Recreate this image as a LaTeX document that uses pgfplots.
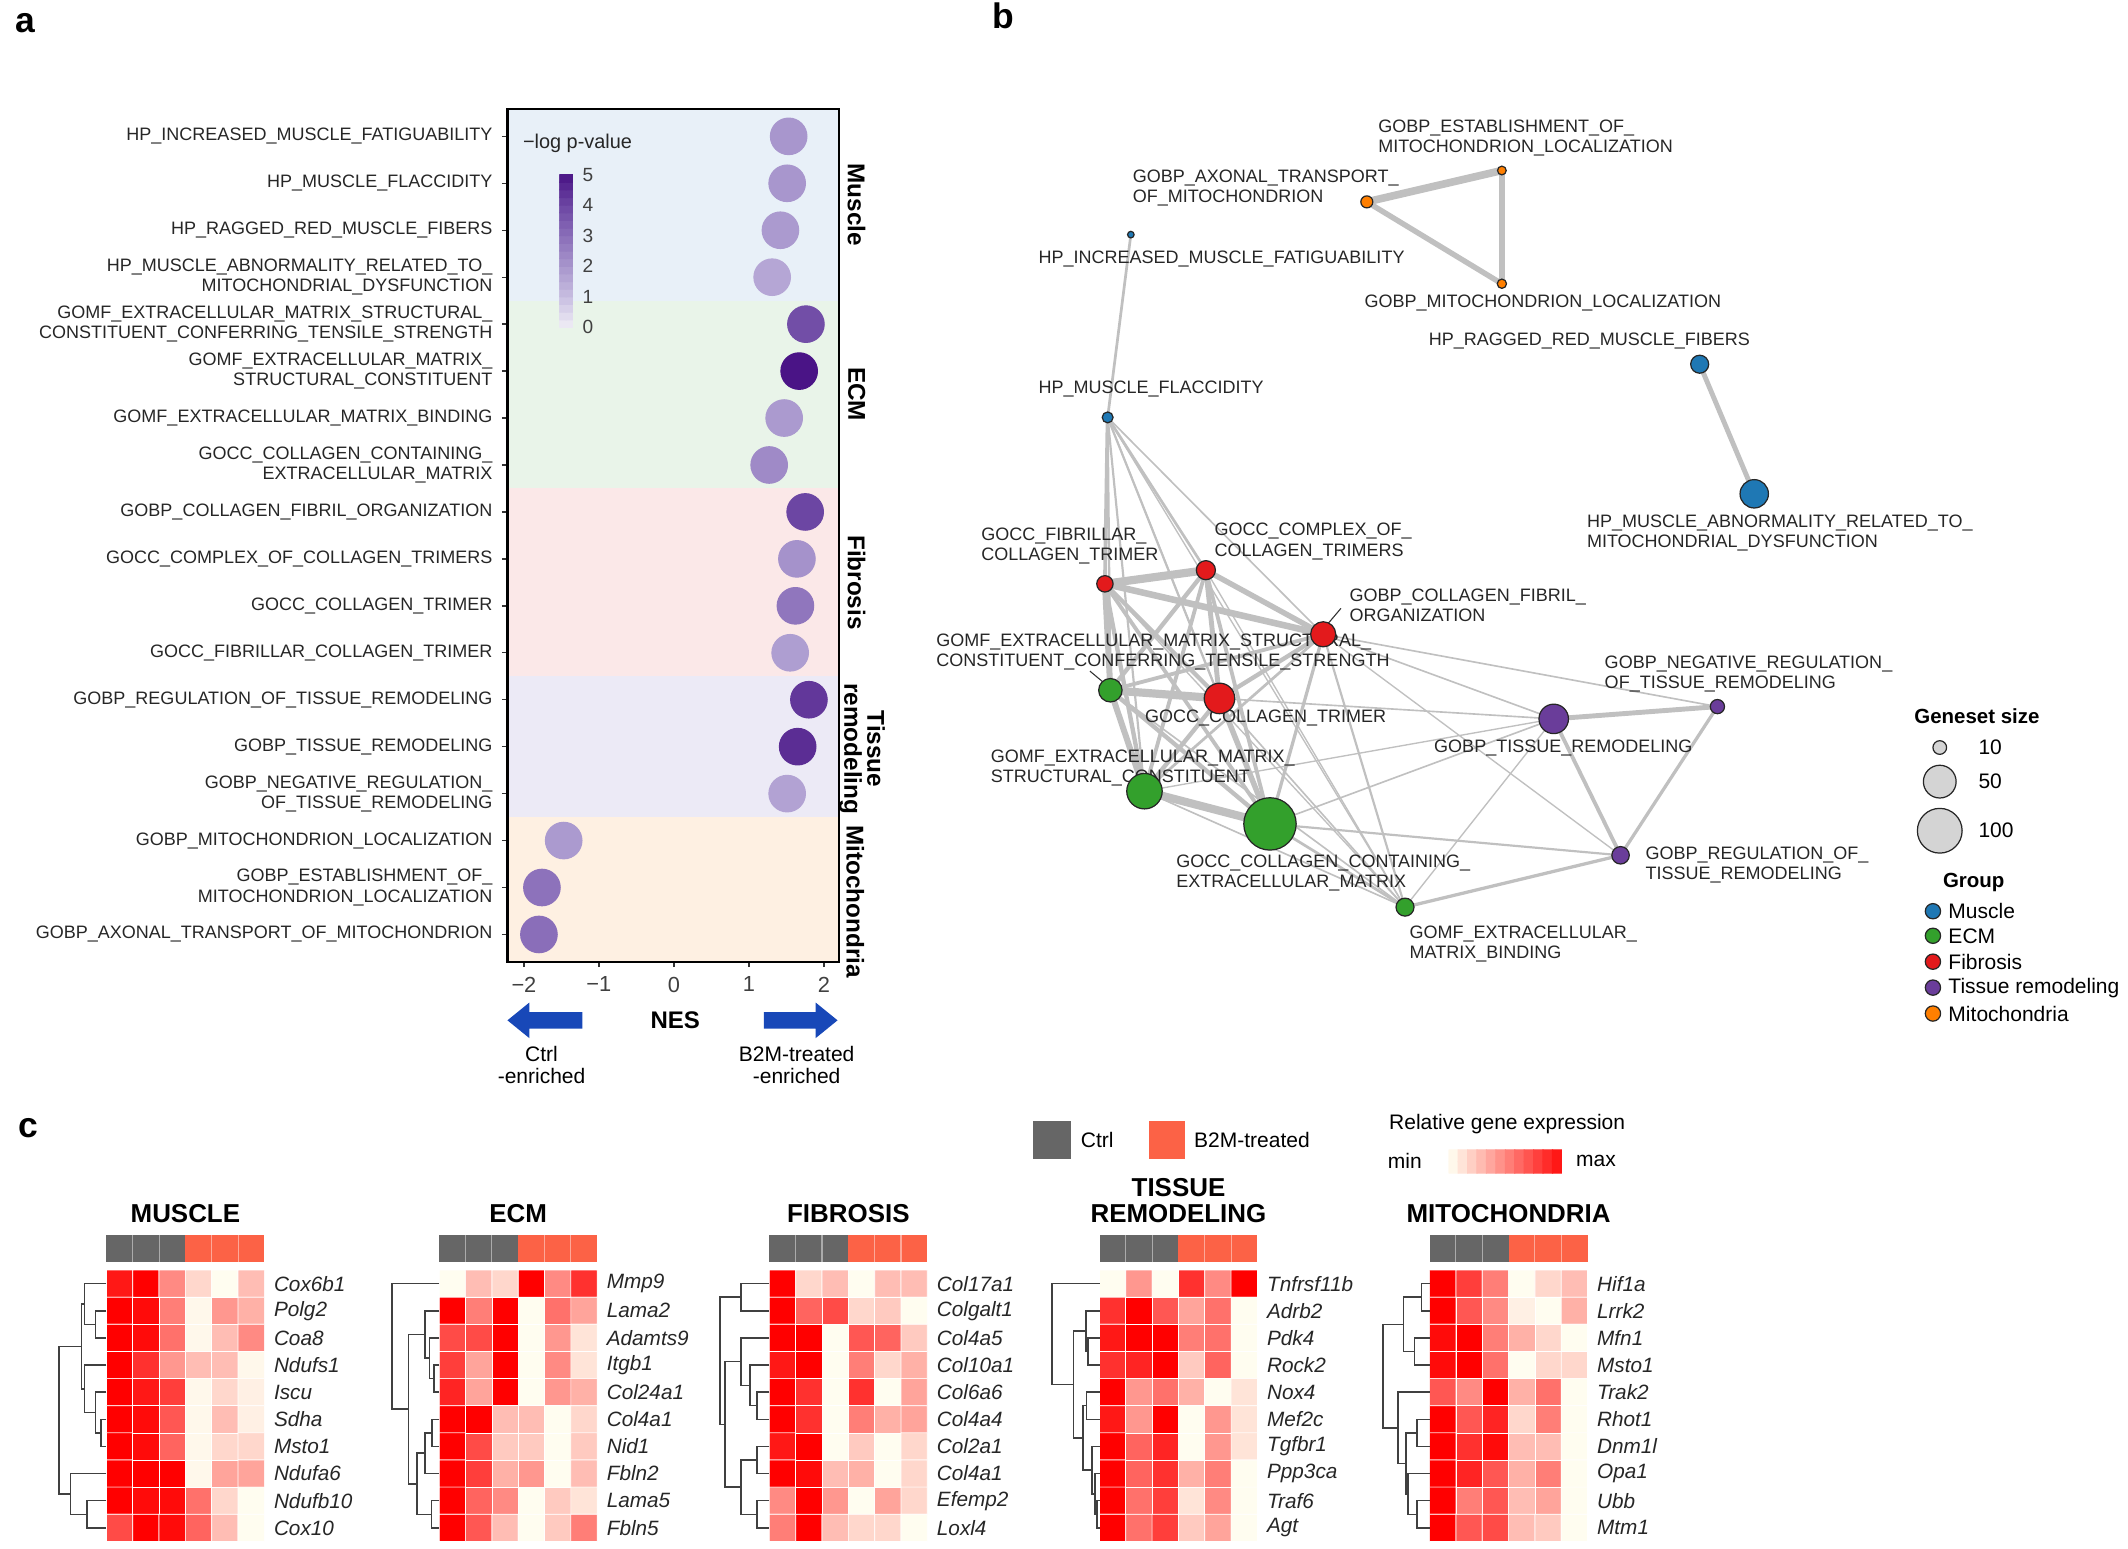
\documentclass[border=0pt]{standalone}
\usepackage{fontspec}
\setmainfont{Liberation Sans}
\usepackage{pgfplots}
\pgfplotsset{compat=1.18}

\definecolor{cMus}{RGB}{31,120,180}
\definecolor{cEcm}{RGB}{51,160,44}
\definecolor{cFib}{RGB}{227,26,28}
\definecolor{cTis}{RGB}{106,61,154}
\definecolor{cMit}{RGB}{255,127,0}
\definecolor{bgMus}{RGB}{232,240,248}
\definecolor{bgEcm}{RGB}{233,244,233}
\definecolor{bgFib}{RGB}{251,232,232}
\definecolor{bgTis}{RGB}{236,234,246}
\definecolor{bgMit}{RGB}{254,240,226}
\definecolor{ctrlc}{RGB}{102,102,102}
\definecolor{b2mc}{RGB}{252,98,70}
\definecolor{arrowc}{RGB}{24,72,184}
\definecolor{edgec}{RGB}{192,192,192}

\newcommand{\lab}{\fontsize{6.6}{7.4}\selectfont}
\newcommand{\txt}{\fontsize{7.7}{8.8}\selectfont}

\pgfplotsset{
  /pgf/number format/assume math mode=true,
  colormap={heat}{rgb255(0cm)=(255,253,240); rgb255(1cm)=(255,0,0)},
  colormap={purp}{rgb255(0cm)=(240,238,246); rgb255(1cm)=(200,190,225); rgb255(2cm)=(168,150,205); rgb255(3cm)=(138,110,185); rgb255(4cm)=(108,70,163); rgb255(5cm)=(74,20,134)},
  dendro/.style={black!75, line width=0.55pt},
  nedge/.style={edgec, line width=#1},
  netnode/.style={scatter, only marks, mark=*,
    scatter/use mapped color={draw=black!85, fill=#1},
    mark options={line width=0.45pt},
    visualization depends on={\thisrow{r}\as\rad},
    scatter/@pre marker code/.append style={/tikz/mark size=\rad}},
  hm/.style={
    anchor=south west, scale only axis, width=76.7pt, height=112.9pt,
    xmin=-1.95, xmax=6, ymin=-1.35, ymax=10, y dir=reverse, clip=false,
    axis line style={draw=none}, xtick=\empty, ytick={0.5,1.5,...,9.5},
    yticklabel pos=right, major tick length=0pt,
    yticklabel style={font=\fontsize{7.6}{8}\selectfont\itshape, text=black!85},
    colormap name=heat, point meta min=0, point meta max=1},
  hmcells/.style={matrix plot*, mesh/cols=6, point meta=explicit,
    shader=faceted, faceted color=white, line width=0.25pt},
}

% group annotation bar above each heatmap (3 Ctrl, 3 B2M-treated)
\newcommand{\annot}{%
  \addplot[fill=ctrlc, draw=none] coordinates {(0,-1.3)(3,-1.3)(3,-0.3)(0,-0.3)};
  \addplot[fill=b2mc, draw=none] coordinates {(3,-1.3)(6,-1.3)(6,-0.3)(3,-0.3)};
  \addplot[white, opacity=0.45, line width=0.4pt] coordinates {(1,-1.3)(1,-0.3)};
  \addplot[white, opacity=0.45, line width=0.4pt] coordinates {(2,-1.3)(2,-0.3)};
  \addplot[white, opacity=0.45, line width=0.4pt] coordinates {(4,-1.3)(4,-0.3)};
  \addplot[white, opacity=0.45, line width=0.4pt] coordinates {(5,-1.3)(5,-0.3)};
}
\newcommand{\dg}[1]{\addplot[dendro] coordinates {#1};}
\newcommand{\nl}[3]{\node[font=\lab, text=black!85, align=left, anchor=west, inner sep=0pt] at (axis cs:#1,#2) {#3};}

\begin{document}
\begin{tikzpicture}
\path (0,0) rectangle (780pt,567.5pt);

% ================= panel a =================
\begin{axis}[
  at={(186pt,215pt)}, anchor=south west,
  scale only axis, width=121.5pt, height=312.5pt,
  xmin=-2.22, xmax=2.2, ymin=0.42, ymax=18.58, y dir=reverse,
  axis on top, tick pos=left, tick align=outside,
  major tick length=2pt,
  every tick/.style={black!80, line width=0.5pt},
  axis line style={black, line width=0.8pt},
  xtick={-2,-1,0,1,2}, xticklabels={−2,−1,0,1,2},
  xticklabel style={font=\fontsize{8}{9}\selectfont, text=black!75},
  ytick={1,2,...,18},
  yticklabels={
    HP\_INCREASED\_MUSCLE\_FATIGUABILITY,
    HP\_MUSCLE\_FLACCIDITY,
    HP\_RAGGED\_RED\_MUSCLE\_FIBERS,
    {HP\_MUSCLE\_ABNORMALITY\_RELATED\_TO\_\\MITOCHONDRIAL\_DYSFUNCTION},
    {GOMF\_EXTRACELLULAR\_MATRIX\_STRUCTURAL\_\\CONSTITUENT\_CONFERRING\_TENSILE\_STRENGTH},
    {GOMF\_EXTRACELLULAR\_MATRIX\_\\STRUCTURAL\_CONSTITUENT},
    GOMF\_EXTRACELLULAR\_MATRIX\_BINDING,
    {GOCC\_COLLAGEN\_CONTAINING\_\\EXTRACELLULAR\_MATRIX},
    GOBP\_COLLAGEN\_FIBRIL\_ORGANIZATION,
    GOCC\_COMPLEX\_OF\_COLLAGEN\_TRIMERS,
    GOCC\_COLLAGEN\_TRIMER,
    GOCC\_FIBRILLAR\_COLLAGEN\_TRIMER,
    GOBP\_REGULATION\_OF\_TISSUE\_REMODELING,
    GOBP\_TISSUE\_REMODELING,
    {GOBP\_NEGATIVE\_REGULATION\_\\OF\_TISSUE\_REMODELING},
    GOBP\_MITOCHONDRION\_LOCALIZATION,
    {GOBP\_ESTABLISHMENT\_OF\_\\MITOCHONDRION\_LOCALIZATION},
    GOBP\_AXONAL\_TRANSPORT\_OF\_MITOCHONDRION},
  yticklabel style={font=\lab, align=right, text=black!85},
  colormap name=purp, point meta min=0, point meta max=5,
]
\addplot[fill=bgMus, draw=none] coordinates {(-2.22,0.42)(2.2,0.42)(2.2,4.5)(-2.22,4.5)};
\addplot[fill=bgEcm, draw=none] coordinates {(-2.22,4.5)(2.2,4.5)(2.2,8.5)(-2.22,8.5)};
\addplot[fill=bgFib, draw=none] coordinates {(-2.22,8.5)(2.2,8.5)(2.2,12.5)(-2.22,12.5)};
\addplot[fill=bgTis, draw=none] coordinates {(-2.22,12.5)(2.2,12.5)(2.2,15.5)(-2.22,15.5)};
\addplot[fill=bgMit, draw=none] coordinates {(-2.22,15.5)(2.2,15.5)(2.2,18.58)(-2.22,18.58)};
\addplot[scatter, only marks, mark=*, mark size=6.7pt, point meta=explicit,
  scatter/use mapped color={draw=mapped color, fill=mapped color}] table[meta=p] {
x y p
1.53 1 2.0
1.51 2 2.0
1.42 3 1.9
1.31 4 1.6
1.76 5 3.8
1.67 6 5.0
1.47 7 1.9
1.27 8 2.3
1.75 9 4.0
1.64 10 2.1
1.62 11 2.8
1.55 12 1.8
1.80 13 4.3
1.65 14 4.5
1.51 15 1.7
-1.47 16 1.9
-1.76 17 2.9
-1.80 18 3.0
};
\end{axis}

% colour bar of panel a
\begin{axis}[
  at={(205pt,447.5pt)}, anchor=south west, scale only axis, width=5pt, height=56pt,
  xmin=0, xmax=2, ymin=0, ymax=5,
  axis line style={draw=none}, xtick=\empty, ytick={0,1,2,3,4,5},
  yticklabels={0,1,2,3,4,5}, yticklabel pos=right, major tick length=0pt,
  yticklabel style={font=\fontsize{7}{8}\selectfont, text=black!75},
  colormap name=purp, point meta min=0, point meta max=5]
\addplot[matrix plot*, mesh/cols=2, point meta=y] coordinates {
(0.5,0.125)(1.5,0.125) (0.5,0.375)(1.5,0.375) (0.5,0.625)(1.5,0.625) (0.5,0.875)(1.5,0.875)
(0.5,1.125)(1.5,1.125) (0.5,1.375)(1.5,1.375) (0.5,1.625)(1.5,1.625) (0.5,1.875)(1.5,1.875)
(0.5,2.125)(1.5,2.125) (0.5,2.375)(1.5,2.375) (0.5,2.625)(1.5,2.625) (0.5,2.875)(1.5,2.875)
(0.5,3.125)(1.5,3.125) (0.5,3.375)(1.5,3.375) (0.5,3.625)(1.5,3.625) (0.5,3.875)(1.5,3.875)
(0.5,4.125)(1.5,4.125) (0.5,4.375)(1.5,4.375) (0.5,4.625)(1.5,4.625) (0.5,4.875)(1.5,4.875)
};
\end{axis}

% ================= panel b =================
\begin{axis}[
  at={(340pt,207.5pt)}, anchor=south west, scale only axis, width=440pt, height=320pt,
  xmin=680, xmax=1560, ymin=80, ymax=720, y dir=reverse, hide axis, clip=false]
% edges
\addplot[nedge=1.0pt] coordinates {(829,172)(812,306)};
\addplot[nedge=2.8pt] coordinates {(1002,148)(1101,125)};
\addplot[nedge=2.4pt] coordinates {(1101,125)(1101,208)};
\addplot[nedge=2.0pt] coordinates {(1002,148)(1101,208)};
\addplot[nedge=1.8pt] coordinates {(1246,267)(1286,362)};
\addplot[nedge=1.4pt] coordinates {(812,306)(810,428)};
\addplot[nedge=1.0pt] coordinates {(812,306)(884,418)};
\addplot[nedge=0.6pt] coordinates {(812,306)(970,465)};
\addplot[nedge=0.8pt] coordinates {(812,306)(894,512)};
\addplot[nedge=0.8pt] coordinates {(812,306)(814,506)};
\addplot[nedge=0.8pt] coordinates {(812,306)(839,580)};
\addplot[nedge=0.6pt] coordinates {(812,306)(931,604)};
\addplot[nedge=0.5pt] coordinates {(812,306)(1030,665)};
\addplot[nedge=3.0pt] coordinates {(810,428)(884,418)};
\addplot[nedge=2.4pt] coordinates {(810,428)(970,465)};
\addplot[nedge=2.2pt] coordinates {(810,428)(814,506)};
\addplot[nedge=1.6pt] coordinates {(810,428)(894,512)};
\addplot[nedge=1.6pt] coordinates {(810,428)(839,580)};
\addplot[nedge=1.4pt] coordinates {(810,428)(931,604)};
\addplot[nedge=0.5pt] coordinates {(810,428)(1030,665)};
\addplot[nedge=2.0pt] coordinates {(884,418)(970,465)};
\addplot[nedge=1.6pt] coordinates {(884,418)(814,506)};
\addplot[nedge=1.8pt] coordinates {(884,418)(894,512)};
\addplot[nedge=1.4pt] coordinates {(884,418)(839,580)};
\addplot[nedge=1.4pt] coordinates {(884,418)(931,604)};
\addplot[nedge=0.5pt] coordinates {(884,418)(1030,665)};
\addplot[nedge=1.4pt] coordinates {(970,465)(814,506)};
\addplot[nedge=1.6pt] coordinates {(970,465)(894,512)};
\addplot[nedge=1.0pt] coordinates {(970,465)(839,580)};
\addplot[nedge=1.2pt] coordinates {(970,465)(931,604)};
\addplot[nedge=0.8pt] coordinates {(970,465)(1030,665)};
\addplot[nedge=0.6pt] coordinates {(970,465)(1139,527)};
\addplot[nedge=0.6pt] coordinates {(970,465)(1259,518)};
\addplot[nedge=0.5pt] coordinates {(970,465)(1188,627)};
\addplot[nedge=3.0pt] coordinates {(814,506)(894,512)};
\addplot[nedge=2.2pt] coordinates {(814,506)(839,580)};
\addplot[nedge=1.6pt] coordinates {(814,506)(931,604)};
\addplot[nedge=0.6pt] coordinates {(814,506)(1030,665)};
\addplot[nedge=1.6pt] coordinates {(894,512)(839,580)};
\addplot[nedge=2.0pt] coordinates {(894,512)(931,604)};
\addplot[nedge=0.6pt] coordinates {(894,512)(1030,665)};
\addplot[nedge=0.6pt] coordinates {(894,512)(1139,527)};
\addplot[nedge=3.0pt] coordinates {(839,580)(931,604)};
\addplot[nedge=0.6pt] coordinates {(839,580)(1030,665)};
\addplot[nedge=0.5pt] coordinates {(839,580)(1139,527)};
\addplot[nedge=1.0pt] coordinates {(931,604)(1030,665)};
\addplot[nedge=0.6pt] coordinates {(931,604)(1139,527)};
\addplot[nedge=0.8pt] coordinates {(931,604)(1188,627)};
\addplot[nedge=0.5pt] coordinates {(1030,665)(1139,527)};
\addplot[nedge=1.2pt] coordinates {(1030,665)(1188,627)};
\addplot[nedge=1.8pt] coordinates {(1139,527)(1259,518)};
\addplot[nedge=1.4pt] coordinates {(1139,527)(1188,627)};
\addplot[nedge=1.2pt] coordinates {(1259,518)(1188,627)};
% nodes (last row of each group = legend dot)
\addplot[netnode=cMus] table {
x y r
829 172 1.2
812 306 2.0
1246 267 3.3
1286 362 5.2
1417 668 2.8
};
\addplot[netnode=cEcm] table {
x y r
814 506 4.3
839 580 6.5
931 604 9.6
1030 665 3.3
1417 686 2.8
};
\addplot[netnode=cFib] table {
x y r
810 428 3.0
884 418 3.5
970 465 4.6
894 512 5.6
1417 705 2.8
};
\addplot[netnode=cTis] table {
x y r
1139 527 5.4
1259 518 2.6
1188 627 3.2
1417 724 2.8
};
\addplot[netnode=cMit] table {
x y r
1002 148 2.2
1101 125 1.6
1101 208 1.7
1417 743 2.8
};
\addplot[netnode=black!17] table {
x y r
1422 548 2.5
1422 573 6.0
1422 609 8.2
};
% labels
\nl{761}{190}{HP\_INCREASED\_MUSCLE\_FATIGUABILITY}
\nl{830}{138}{GOBP\_AXONAL\_TRANSPORT\_\\OF\_MITOCHONDRION}
\nl{1010}{101}{GOBP\_ESTABLISHMENT\_OF\_\\MITOCHONDRION\_LOCALIZATION}
\nl{1000}{222}{GOBP\_MITOCHONDRION\_LOCALIZATION}
\nl{1047}{250}{HP\_RAGGED\_RED\_MUSCLE\_FIBERS}
\nl{1163}{391}{HP\_MUSCLE\_ABNORMALITY\_RELATED\_TO\_\\MITOCHONDRIAL\_DYSFUNCTION}
\nl{761}{285}{HP\_MUSCLE\_FLACCIDITY}
\nl{719}{400}{GOCC\_FIBRILLAR\_\\COLLAGEN\_TRIMER}
\nl{890}{397}{GOCC\_COMPLEX\_OF\_\\COLLAGEN\_TRIMERS}
\nl{989}{444}{GOBP\_COLLAGEN\_FIBRIL\_\\ORGANIZATION}
\nl{686}{478}{GOMF\_EXTRACELLULAR\_MATRIX\_STRUCTURAL\_\\CONSTITUENT\_CONFERRING\_TENSILE\_STRENGTH}
\nl{839}{526}{GOCC\_COLLAGEN\_TRIMER}
\nl{726}{563}{GOMF\_EXTRACELLULAR\_MATRIX\_\\STRUCTURAL\_CONSTITUENT}
\nl{862}{640}{GOCC\_COLLAGEN\_CONTAINING\_\\EXTRACELLULAR\_MATRIX}
\nl{1033}{692}{GOMF\_EXTRACELLULAR\_\\MATRIX\_BINDING}
\nl{1051}{548}{GOBP\_TISSUE\_REMODELING}
\nl{1176}{494}{GOBP\_NEGATIVE\_REGULATION\_\\OF\_TISSUE\_REMODELING}
\nl{1206}{634}{GOBP\_REGULATION\_OF\_\\TISSUE\_REMODELING}
\draw[black!80, line width=0.4pt] (axis cs:972,459) -- (axis cs:983,446);
\draw[black!80, line width=0.4pt] (axis cs:811,502) -- (axis cs:799,492);
% legend text
\node[font=\fontsize{7.5}{8}\selectfont\bfseries, anchor=west, inner sep=0pt] at (axis cs:1403,525) {Geneset size};
\node[font=\txt, anchor=west, inner sep=0pt] at (axis cs:1450,548) {10};
\node[font=\txt, anchor=west, inner sep=0pt] at (axis cs:1450,573) {50};
\node[font=\txt, anchor=west, inner sep=0pt] at (axis cs:1450,609) {100};
\node[font=\fontsize{7.5}{8}\selectfont\bfseries, anchor=west, inner sep=0pt] at (axis cs:1424,647) {Group};
\node[font=\txt, anchor=west, inner sep=0pt] at (axis cs:1428,668) {Muscle};
\node[font=\txt, anchor=west, inner sep=0pt] at (axis cs:1428,686) {ECM};
\node[font=\txt, anchor=west, inner sep=0pt] at (axis cs:1428,705) {Fibrosis};
\node[font=\txt, anchor=west, inner sep=0pt] at (axis cs:1428,724) {Tissue remodeling};
\node[font=\txt, anchor=west, inner sep=0pt] at (axis cs:1428,743) {Mitochondria};
\end{axis}

% ================= panel c =================
\begin{axis}[at={(531pt,137.5pt)}, anchor=south west, scale only axis, width=41.5pt, height=8.5pt,
  xmin=0, xmax=12, ymin=0, ymax=2, hide axis, colormap name=heat, point meta min=0, point meta max=1]
\addplot[matrix plot*, mesh/cols=12, point meta=explicit] coordinates {
(0.5,0.5)[0.02] (1.5,0.5)[0.1] (2.5,0.5)[0.18] (3.5,0.5)[0.26] (4.5,0.5)[0.34] (5.5,0.5)[0.42]
(6.5,0.5)[0.5] (7.5,0.5)[0.58] (8.5,0.5)[0.66] (9.5,0.5)[0.74] (10.5,0.5)[0.82] (11.5,0.5)[0.9]
(0.5,1.5)[0.02] (1.5,1.5)[0.1] (2.5,1.5)[0.18] (3.5,1.5)[0.26] (4.5,1.5)[0.34] (5.5,1.5)[0.42]
(6.5,1.5)[0.5] (7.5,1.5)[0.58] (8.5,1.5)[0.66] (9.5,1.5)[0.74] (10.5,1.5)[0.82] (11.5,1.5)[0.9]
};
\end{axis}

% MUSCLE
\begin{axis}[hm, at={(20.2pt,2.5pt)},
  yticklabels={Cox6b1,Polg2,Coa8,Ndufs1,Iscu,Sdha,Msto1,Ndufa6,Ndufb10,Cox10}]
\addplot[hmcells] coordinates {
(0.5,0.5)[0.9] (1.5,0.5)[1] (2.5,0.5)[0.45] (3.5,0.5)[0.15] (4.5,0.5)[0] (5.5,0.5)[0.25]
(0.5,1.5)[1] (1.5,1.5)[0.95] (2.5,1.5)[0.5] (3.5,1.5)[0.02] (4.5,1.5)[0.4] (5.5,1.5)[0.3]
(0.5,2.5)[1] (1.5,2.5)[0.95] (2.5,2.5)[0.55] (3.5,2.5)[0.02] (4.5,2.5)[0.25] (5.5,2.5)[0.45]
(0.5,3.5)[1] (1.5,3.5)[0.8] (2.5,3.5)[0.4] (3.5,3.5)[0.25] (4.5,3.5)[0.25] (5.5,3.5)[0.02]
(0.5,4.5)[1] (1.5,4.5)[0.9] (2.5,4.5)[0.75] (3.5,4.5)[0.02] (4.5,4.5)[0.15] (5.5,4.5)[0.05]
(0.5,5.5)[1] (1.5,5.5)[0.95] (2.5,5.5)[0.65] (3.5,5.5)[0.02] (4.5,5.5)[0.25] (5.5,5.5)[0.05]
(0.5,6.5)[1] (1.5,6.5)[0.95] (2.5,6.5)[0.6] (3.5,6.5)[0.02] (4.5,6.5)[0.15] (5.5,6.5)[0.15]
(0.5,7.5)[1] (1.5,7.5)[1] (2.5,7.5)[1] (3.5,7.5)[0.02] (4.5,7.5)[0.35] (5.5,7.5)[0.35]
(0.5,8.5)[1] (1.5,8.5)[0.95] (2.5,8.5)[0.95] (3.5,8.5)[0.55] (4.5,8.5)[0.15] (5.5,8.5)[0]
(0.5,9.5)[0.7] (1.5,9.5)[1] (2.5,9.5)[0.95] (3.5,9.5)[0.6] (4.5,9.5)[0.25] (5.5,9.5)[0]
};
\annot
\dg{(0,1.5)(-0.42,1.5)(-0.42,2.5)(0,2.5)}
\dg{(0,0.5)(-0.83,0.5)(-0.83,2.0)(-0.42,2.0)}
\dg{(0,5.5)(-0.21,5.5)(-0.21,6.5)(0,6.5)}
\dg{(0,4.5)(-0.42,4.5)(-0.42,6.0)(-0.21,6.0)}
\dg{(0,3.5)(-0.83,3.5)(-0.83,5.25)(-0.42,5.25)}
\dg{(-0.83,1.25)(-0.95,1.25)(-0.95,4.375)(-0.83,4.375)}
\dg{(0,8.5)(-0.74,8.5)(-0.74,9.5)(0,9.5)}
\dg{(0,7.5)(-1.36,7.5)(-1.36,9.0)(-0.74,9.0)}
\dg{(-0.95,2.8125)(-1.8,2.8125)(-1.8,8.25)(-1.36,8.25)}
\node[font=\fontsize{9.5}{10}\selectfont\bfseries, anchor=base] at (axis cs:3,-1.76) {MUSCLE};
\end{axis}

% ECM
\begin{axis}[hm, at={(142.2pt,2.5pt)},
  yticklabels={Mmp9,Lama2,Adamts9,Itgb1,Col24a1,Col4a1,Nid1,Fbln2,Lama5,Fbln5}]
\addplot[hmcells] coordinates {
(0.5,0.5)[0] (1.5,0.5)[0.25] (2.5,0.5)[0.15] (3.5,0.5)[1] (4.5,0.5)[0.45] (5.5,0.5)[0.8]
(0.5,1.5)[1] (1.5,1.5)[0.5] (2.5,1.5)[1] (3.5,1.5)[0] (4.5,1.5)[0.55] (5.5,1.5)[0.35]
(0.5,2.5)[0.7] (1.5,2.5)[0.7] (2.5,2.5)[1] (3.5,2.5)[0] (4.5,2.5)[0.4] (5.5,2.5)[0.1]
(0.5,3.5)[0.75] (1.5,3.5)[0.35] (2.5,3.5)[1] (3.5,3.5)[0] (4.5,3.5)[0.45] (5.5,3.5)[0.1]
(0.5,4.5)[0.85] (1.5,4.5)[0.35] (2.5,4.5)[1] (3.5,4.5)[0] (4.5,4.5)[0.4] (5.5,4.5)[0.3]
(0.5,5.5)[1] (1.5,5.5)[1] (2.5,5.5)[0.25] (3.5,5.5)[0.25] (4.5,5.5)[0] (5.5,5.5)[0.15]
(0.5,6.5)[1] (1.5,6.5)[0.7] (2.5,6.5)[0.2] (3.5,6.5)[0.2] (4.5,6.5)[0] (5.5,6.5)[0.2]
(0.5,7.5)[1] (1.5,7.5)[0.75] (2.5,7.5)[0.3] (3.5,7.5)[0.4] (4.5,7.5)[0] (5.5,7.5)[0.25]
(0.5,8.5)[1] (1.5,8.5)[0.6] (2.5,8.5)[0.45] (3.5,8.5)[0] (4.5,8.5)[0.2] (5.5,8.5)[0.1]
(0.5,9.5)[1] (1.5,9.5)[0.65] (2.5,9.5)[0.25] (3.5,9.5)[0] (4.5,9.5)[0.2] (5.5,9.5)[0.5]
};
\annot
\dg{(0,3.5)(-0.2,3.5)(-0.2,4.5)(0,4.5)}
\dg{(0,2.5)(-0.37,2.5)(-0.37,4.0)(-0.2,4.0)}
\dg{(0,1.5)(-0.55,1.5)(-0.55,3.25)(-0.37,3.25)}
\dg{(0,5.5)(-0.28,5.5)(-0.28,6.5)(0,6.5)}
\dg{(-0.28,6.0)(-0.55,6.0)(-0.55,7.5)(0,7.5)}
\dg{(0,8.5)(-0.3,8.5)(-0.3,9.5)(0,9.5)}
\dg{(-0.55,6.75)(-0.85,6.75)(-0.85,9.0)(-0.3,9.0)}
\dg{(-0.55,2.375)(-1.17,2.375)(-1.17,7.875)(-0.85,7.875)}
\dg{(0,0.5)(-1.79,0.5)(-1.79,5.125)(-1.17,5.125)}
\node[font=\fontsize{9.5}{10}\selectfont\bfseries, anchor=base] at (axis cs:3,-1.76) {ECM};
\end{axis}

% FIBROSIS
\begin{axis}[hm, at={(263.2pt,2.5pt)},
  yticklabels={Col17a1,Colgalt1,Col4a5,Col10a1,Col6a6,Col4a4,Col2a1,Col4a1,Efemp2,Loxl4}]
\addplot[hmcells] coordinates {
(0.5,0.5)[1] (1.5,0.5)[0.15] (2.5,0.5)[0.25] (3.5,0.5)[0] (4.5,0.5)[0.25] (5.5,0.5)[0.25]
(0.5,1.5)[1] (1.5,1.5)[0.6] (2.5,1.5)[0.7] (3.5,1.5)[0.15] (4.5,1.5)[0.2] (5.5,1.5)[0]
(0.5,2.5)[1] (1.5,2.5)[1] (2.5,2.5)[0] (3.5,2.5)[0.65] (4.5,2.5)[0.6] (5.5,2.5)[0.2]
(0.5,3.5)[0.9] (1.5,3.5)[1] (2.5,3.5)[0] (3.5,3.5)[0.5] (4.5,3.5)[0.15] (5.5,3.5)[0.3]
(0.5,4.5)[1] (1.5,4.5)[0.8] (2.5,4.5)[0] (3.5,4.5)[0.8] (4.5,4.5)[0] (5.5,4.5)[0.35]
(0.5,5.5)[1] (1.5,5.5)[0.8] (2.5,5.5)[0] (3.5,5.5)[0.5] (4.5,5.5)[0.3] (5.5,5.5)[0.35]
(0.5,6.5)[0.9] (1.5,6.5)[1] (2.5,6.5)[0] (3.5,6.5)[0.2] (4.5,6.5)[0] (5.5,6.5)[0.15]
(0.5,7.5)[1] (1.5,7.5)[0.95] (2.5,7.5)[0.25] (3.5,7.5)[0.3] (4.5,7.5)[0] (5.5,7.5)[0.15]
(0.5,8.5)[0.45] (1.5,8.5)[1] (2.5,8.5)[0.4] (3.5,8.5)[0] (4.5,8.5)[0.35] (5.5,8.5)[0.15]
(0.5,9.5)[0.5] (1.5,9.5)[1] (2.5,9.5)[0.25] (3.5,9.5)[0.15] (4.5,9.5)[0.15] (5.5,9.5)[0]
};
\annot
\dg{(0,0.5)(-1.08,0.5)(-1.08,1.5)(0,1.5)}
\dg{(0,4.5)(-0.48,4.5)(-0.48,5.5)(0,5.5)}
\dg{(0,3.5)(-0.74,3.5)(-0.74,5.0)(-0.48,5.0)}
\dg{(0,2.5)(-1.08,2.5)(-1.08,4.25)(-0.74,4.25)}
\dg{(0,6.5)(-0.48,6.5)(-0.48,7.5)(0,7.5)}
\dg{(0,8.5)(-0.48,8.5)(-0.48,9.5)(0,9.5)}
\dg{(-0.48,7.0)(-1.08,7.0)(-1.08,9.0)(-0.48,9.0)}
\dg{(-1.08,3.375)(-1.69,3.375)(-1.69,8.0)(-1.08,8.0)}
\dg{(-1.08,1.0)(-1.87,1.0)(-1.87,5.6875)(-1.69,5.6875)}
\node[font=\fontsize{9.5}{10}\selectfont\bfseries, anchor=base] at (axis cs:3,-1.76) {FIBROSIS};
\end{axis}

% TISSUE REMODELING
\begin{axis}[hm, at={(384.2pt,2.5pt)},
  yticklabels={Tnfrsf11b,Adrb2,Pdk4,Rock2,Nox4,Mef2c,Tgfbr1,Ppp3ca,Traf6,Agt}]
\addplot[hmcells] coordinates {
(0.5,0.5)[0] (1.5,0.5)[0.4] (2.5,0.5)[0] (3.5,0.5)[0.8] (4.5,0.5)[0.45] (5.5,0.5)[1]
(0.5,1.5)[0.8] (1.5,1.5)[1] (2.5,1.5)[0.65] (3.5,1.5)[0.35] (4.5,1.5)[0.55] (5.5,1.5)[0]
(0.5,2.5)[0.9] (1.5,2.5)[1] (2.5,2.5)[1] (3.5,2.5)[0.5] (4.5,2.5)[0.55] (5.5,2.5)[0]
(0.5,3.5)[0.8] (1.5,3.5)[0.85] (2.5,3.5)[1] (3.5,3.5)[0.2] (4.5,3.5)[0.6] (5.5,3.5)[0]
(0.5,4.5)[1] (1.5,4.5)[0.4] (2.5,4.5)[0.55] (3.5,4.5)[0.3] (4.5,4.5)[0] (5.5,4.5)[0.1]
(0.5,5.5)[0.9] (1.5,5.5)[0.4] (2.5,5.5)[1] (3.5,5.5)[0] (4.5,5.5)[0.4] (5.5,5.5)[0.1]
(0.5,6.5)[1] (1.5,6.5)[0.6] (2.5,6.5)[0.85] (3.5,6.5)[0] (4.5,6.5)[0.4] (5.5,6.5)[0.1]
(0.5,7.5)[1] (1.5,7.5)[0.6] (2.5,7.5)[0.8] (3.5,7.5)[0.3] (4.5,7.5)[0.5] (5.5,7.5)[0]
(0.5,8.5)[1] (1.5,8.5)[0.55] (2.5,8.5)[0.75] (3.5,8.5)[0.1] (4.5,8.5)[0.45] (5.5,8.5)[0]
(0.5,9.5)[1] (1.5,9.5)[0.55] (2.5,9.5)[0.75] (3.5,9.5)[0.2] (4.5,9.5)[0.35] (5.5,9.5)[0]
};
\annot
\dg{(0,2.5)(-0.43,2.5)(-0.43,3.5)(0,3.5)}
\dg{(0,1.5)(-0.52,1.5)(-0.52,3.0)(-0.43,3.0)}
\dg{(0,4.5)(-0.5,4.5)(-0.5,5.5)(0,5.5)}
\dg{(0,8.5)(-0.09,8.5)(-0.09,9.5)(0,9.5)}
\dg{(0,7.5)(-0.17,7.5)(-0.17,9.0)(-0.09,9.0)}
\dg{(0,6.5)(-0.29,6.5)(-0.29,8.25)(-0.17,8.25)}
\dg{(-0.5,5.0)(-0.63,5.0)(-0.63,7.375)(-0.29,7.375)}
\dg{(-0.52,2.25)(-0.98,2.25)(-0.98,6.1875)(-0.63,6.1875)}
\dg{(0,0.5)(-1.8,0.5)(-1.8,4.22)(-0.98,4.22)}
\node[font=\fontsize{9.5}{10}\selectfont\bfseries, anchor=base] at (axis cs:3,-2.71) {TISSUE};
\node[font=\fontsize{9.5}{10}\selectfont\bfseries, anchor=base] at (axis cs:3,-1.76) {REMODELING};
\end{axis}

% MITOCHONDRIA
\begin{axis}[hm, at={(505.2pt,2.5pt)},
  yticklabels={Hif1a,Lrrk2,Mfn1,Msto1,Trak2,Rhot1,Dnm1l,Opa1,Ubb,Mtm1}]
\addplot[hmcells] coordinates {
(0.5,0.5)[1] (1.5,0.5)[0.75] (2.5,0.5)[0.5] (3.5,0.5)[0] (4.5,0.5)[0.15] (5.5,0.5)[0.25]
(0.5,1.5)[1] (1.5,1.5)[0.65] (2.5,1.5)[0.45] (3.5,1.5)[0.05] (4.5,1.5)[0] (5.5,1.5)[0.3]
(0.5,2.5)[0.95] (1.5,2.5)[1] (2.5,2.5)[0.5] (3.5,2.5)[0.3] (4.5,2.5)[0.15] (5.5,2.5)[0]
(0.5,3.5)[0.95] (1.5,3.5)[1] (2.5,3.5)[0.55] (3.5,3.5)[0] (4.5,3.5)[0.15] (5.5,3.5)[0.15]
(0.5,4.5)[0.65] (1.5,4.5)[0.45] (2.5,4.5)[1] (3.5,4.5)[0.3] (4.5,4.5)[0.55] (5.5,4.5)[0]
(0.5,5.5)[1] (1.5,5.5)[0.65] (2.5,5.5)[0.85] (3.5,5.5)[0.15] (4.5,5.5)[0.5] (5.5,5.5)[0]
(0.5,6.5)[1] (1.5,6.5)[0.8] (2.5,6.5)[0.95] (3.5,6.5)[0.25] (4.5,6.5)[0.25] (5.5,6.5)[0]
(0.5,7.5)[1] (1.5,7.5)[0.85] (2.5,7.5)[0.65] (3.5,7.5)[0.3] (4.5,7.5)[0.5] (5.5,7.5)[0]
(0.5,8.5)[1] (1.5,8.5)[0.5] (2.5,8.5)[0.65] (3.5,8.5)[0.25] (4.5,8.5)[0.35] (5.5,8.5)[0]
(0.5,9.5)[1] (1.5,9.5)[0.65] (2.5,9.5)[0.7] (3.5,9.5)[0.25] (4.5,9.5)[0.2] (5.5,9.5)[0]
};
\annot
\dg{(0,0.5)(-0.31,0.5)(-0.31,1.5)(0,1.5)}
\dg{(0,2.5)(-0.57,2.5)(-0.57,3.5)(0,3.5)}
\dg{(-0.31,1.0)(-1.0,1.0)(-1.0,3.0)(-0.57,3.0)}
\dg{(0,5.5)(-0.48,5.5)(-0.48,6.5)(0,6.5)}
\dg{(0,8.5)(-0.48,8.5)(-0.48,9.5)(0,9.5)}
\dg{(0,7.5)(-0.82,7.5)(-0.82,9.0)(-0.48,9.0)}
\dg{(-0.48,6.0)(-0.9,6.0)(-0.9,8.25)(-0.82,8.25)}
\dg{(0,4.5)(-1.2,4.5)(-1.2,7.125)(-0.9,7.125)}
\dg{(-1.0,2.0)(-1.77,2.0)(-1.77,5.8125)(-1.2,5.8125)}
\node[font=\fontsize{9.5}{10}\selectfont\bfseries, anchor=base] at (axis cs:3,-1.76) {MITOCHONDRIA};
\end{axis}

% ---------- plain annotations, in the reference's pixel grid ----------
\begin{scope}[x=0.5pt, y=-0.5pt, yshift=567.5pt]
\node[font=\fontsize{13}{13}\selectfont\bfseries, anchor=base west, inner sep=0pt] at (11,24) {a};
\node[font=\fontsize{13}{13}\selectfont\bfseries, anchor=base west, inner sep=0pt] at (727,21) {b};
\node[font=\fontsize{13}{13}\selectfont\bfseries, anchor=base west, inner sep=0pt] at (13,834) {c};

\node[font=\fontsize{7.3}{8}\selectfont, text=black!85, anchor=west, inner sep=0pt] at (383,105) {−log p-value};
\node[font=\fontsize{8.9}{9.6}\selectfont\bfseries, rotate=-90] at (628,150) {Muscle};
\node[font=\fontsize{8.9}{9.6}\selectfont\bfseries, rotate=-90] at (628,289) {ECM};
\node[font=\fontsize{8.9}{9.6}\selectfont\bfseries, rotate=-90] at (628,427) {Fibrosis};
\node[font=\fontsize{8.9}{8.4}\selectfont\bfseries, rotate=-90, align=center] at (632,549) {Tissue\\remodeling};
\node[font=\fontsize{8.9}{9.6}\selectfont\bfseries, rotate=-90] at (627,661) {Mitochondria};

\fill[arrowc] (372,748)--(388,735)--(388,742)--(427,742)--(427,754)--(388,754)--(388,761)--cycle;
\fill[arrowc] (614,748)--(598,735)--(598,742)--(560,742)--(560,754)--(598,754)--(598,761)--cycle;
\node[font=\fontsize{8.8}{9.6}\selectfont\bfseries] at (495,748) {NES};
\node[font=\txt, anchor=base] at (397,778) {Ctrl};
\node[font=\txt, anchor=base] at (397,794) {-enriched};
\node[font=\txt, anchor=base] at (584,778) {B2M-treated};
\node[font=\txt, anchor=base] at (584,794) {-enriched};

\fill[ctrlc] (757,822) rectangle (785,850);
\fill[b2mc] (842,822) rectangle (869,850);
\node[font=\txt, anchor=west, inner sep=0pt] at (792,836) {Ctrl};
\node[font=\txt, anchor=west, inner sep=0pt] at (875,836) {B2M-treated};
\node[font=\txt, anchor=west, inner sep=0pt] at (1018,824) {Relative gene expression};
\node[font=\txt, anchor=west, inner sep=0pt] at (1017,851) {min};
\node[font=\txt, anchor=west, inner sep=0pt] at (1155,851) {max};
\end{scope}

\end{tikzpicture}
\end{document}
